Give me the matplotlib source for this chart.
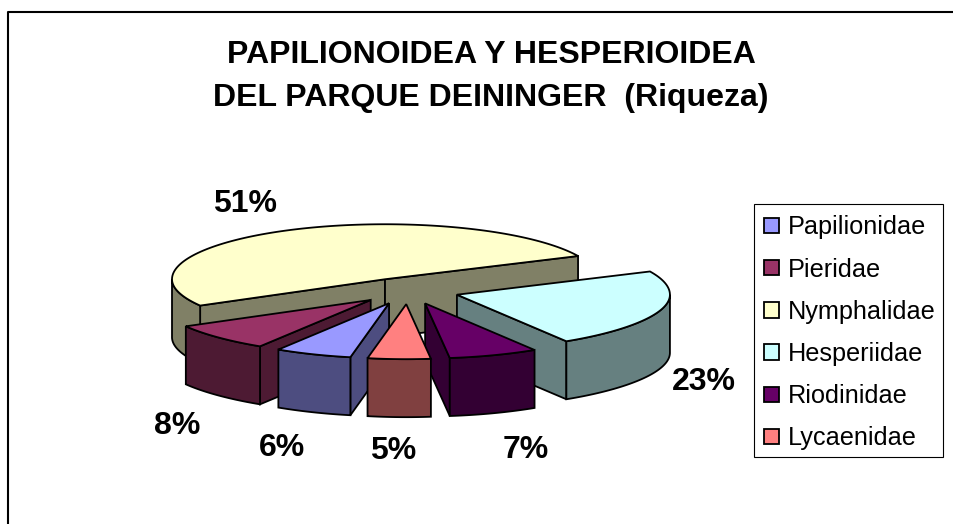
#!/usr/bin/env python3

import matplotlib
matplotlib.use("Agg")
import matplotlib.pyplot as plt
import numpy as np
from matplotlib.patches import Patch, Polygon, Rectangle

plt.rcParams['font.family'] = ['Liberation Sans', 'DejaVu Sans']

# families and their share of the richness (%)
families = ['Papilionidae', 'Pieridae', 'Nymphalidae', 'Hesperiidae', 'Riodinidae', 'Lycaenidae']
values = [6, 8, 51, 23, 7, 5]
top_colors = ['#9999FF', '#993366', '#FFFFCC', '#CCFFFF', '#660066', '#FF8080']
side_colors = ['#4D4D80', '#4D1A33', '#808066', '#668080', '#330033', '#804040']

title = 'PAPILIONOIDEA Y HESPERIOIDEA\nDEL PARQUE DEININGER  (Riqueza)'

# pie geometry, in pixels of the picture
CX, CY = 408, 291
RX, RY = 213, 55
DEPTH = 58
EXPLODE = 51
START = 191           # degrees clockwise from the back of the pie
FRONT_SHRINK = 0.05   # the front of the rim is a bit narrower in the original
LINE = 1.3

# where the percent labels sit
label_pos = [(282, 448), (177, 426), (245, 204), (704, 382), (526, 450), (393, 451)]

# back to front
draw_order = [2, 3, 1, 4, 0, 5]


def rim(apex, t):
    t = np.radians(t)
    c = np.cos(t)
    shrink = 1 - FRONT_SHRINK * np.where(c < 0, c ** 2, 0)
    return np.column_stack([apex[0] + RX * shrink * np.sin(t), apex[1] - RY * c])


def draw_wedge(ax, t1, t2, top, side):
    mid = np.radians((t1 + t2) / 2)
    apex = (CX + EXPLODE * np.sin(mid), CY - EXPLODE * RY / RX * np.cos(mid))
    down = np.array([0, DEPTH])

    # the cut faces that look at the viewer
    for t, normal in ((t1, t1 - 90), (t2, t2 + 90)):
        if np.cos(np.radians(normal)) < 0:
            p = rim(apex, [t])[0]
            quad = [apex, p, p + down, np.array(apex) + down]
            ax.add_patch(Polygon(quad, closed=True, fc=side, ec='black', lw=LINE))

    # outer wall, only the part that faces the viewer
    for lo, hi in ((90, 270), (450, 630)):
        a, b = max(t1, lo), min(t2, hi)
        if a < b:
            arc = rim(apex, np.linspace(a, b, 60))
            wall = np.vstack([arc, (arc + down)[::-1]])
            ax.add_patch(Polygon(wall, closed=True, fc=side, ec='black', lw=LINE))

    # top face
    arc = rim(apex, np.linspace(t1, t2, 120))
    ax.add_patch(Polygon(np.vstack([[apex], arc]), closed=True, fc=top, ec='black', lw=LINE))


def main():
    fig = plt.figure(figsize=(9.54, 5.24), dpi=100)
    ax = fig.add_axes([0, 0, 1, 1])
    ax.set_xlim(0, 954)
    ax.set_ylim(524, 0)
    ax.axis('off')

    # chart area border, cut by the crop on the right and the bottom
    ax.plot([8, 8, 954], [524, 12, 12], color='black', lw=1.5)

    ax.text(491, 76.5, title, ha='center', va='center', fontsize=23, fontweight='bold',
            linespacing=1.55)

    edges = START + np.cumsum([0] + values) * 3.6
    for i in draw_order:
        draw_wedge(ax, edges[i], edges[i + 1], top_colors[i], side_colors[i])

    for v, (x, y) in zip(values, label_pos):
        ax.text(x, y, f'{v}%', ha='center', va='center', fontsize=23, fontweight='bold')

    # legend box drawn apart so that its size can follow the original
    ax.add_patch(Rectangle((754, 204), 189, 253, fc='white', ec='black', lw=0.8))
    handles = [Patch(fc=c, ec='black', lw=1.3) for c in top_colors]
    ax.legend(handles, families, loc='upper left', bbox_to_anchor=(753, 204),
              bbox_transform=ax.transData, fontsize=18.2, frameon=False,
              handlelength=0.56, handleheight=0.56,
              handletextpad=0.38, labelspacing=0.72, borderpad=0.45, borderaxespad=0)

    fig.savefig('out.png', dpi=100, facecolor='white')


if __name__ == "__main__":
    main()
